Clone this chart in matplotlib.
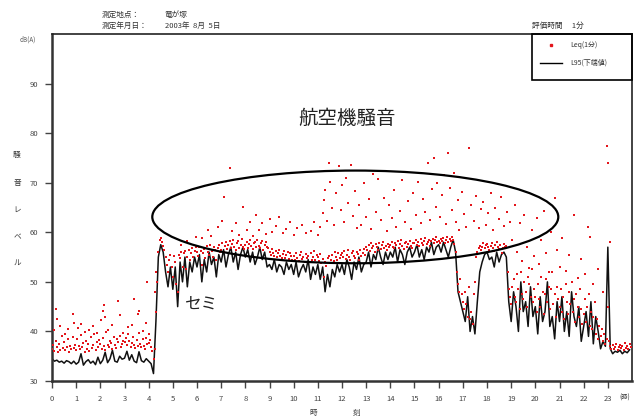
import numpy as np
import matplotlib
matplotlib.use("Agg")
import matplotlib.pyplot as plt
from matplotlib.patches import Ellipse, Rectangle
from matplotlib.lines import Line2D

plt.rcParams['font.family'] = ['Noto Sans CJK JP', 'DejaVu Sans']

# ---- data ----
# L95 at 0.1 h steps (hour 0 ... 23.9)
l95 = [
    34.5,34.0,34.2,33.8,34.0,33.6,34.1,33.9,33.5,34.0,
    33.4,33.8,35.5,33.2,33.9,34.3,33.6,34.0,33.3,34.8,
    33.5,34.2,35.8,33.7,34.5,36.2,34.0,33.8,35.0,34.4,
    34.6,36.0,34.2,35.3,34.0,33.7,35.9,34.1,33.8,34.5,
    34.0,33.5,31.5,42.0,55.0,57.5,56.0,52.0,49.0,53.0,
    48.5,53.0,45.0,54.0,50.0,55.0,49.0,54.0,52.0,55.0,
    53.0,55.5,50.0,54.5,52.0,56.0,53.5,55.0,51.0,55.5,
    54.0,56.5,53.0,55.5,57.0,54.0,56.0,52.5,55.5,57.0,
    55.0,56.5,54.0,56.0,53.5,55.0,57.0,54.5,56.0,53.0,
    53.5,52.5,54.5,52.0,53.5,53.0,51.5,54.0,52.5,53.5,
    51.5,54.0,51.0,52.5,53.5,52.0,54.5,50.5,53.0,51.5,
    53.5,50.5,53.0,48.0,51.5,49.0,52.5,51.0,53.5,52.0,
    53.5,51.5,54.5,53.0,50.5,54.0,52.5,55.0,52.0,53.5,
    54.0,56.0,53.0,55.5,54.5,57.0,55.0,53.5,56.0,54.5,
    56.0,55.0,57.0,54.0,56.5,55.5,53.5,56.0,57.0,55.0,
    56.0,57.5,55.0,56.5,54.5,57.0,56.0,58.0,55.5,57.0,
    57.5,56.0,58.0,56.5,55.0,57.0,58.5,56.0,48.0,46.0,
    44.0,42.0,47.0,40.0,43.0,39.5,46.0,52.0,54.0,55.5,
    56.0,54.5,55.0,53.0,56.0,54.0,55.5,56.0,55.0,46.0,
    42.0,48.0,45.0,40.0,50.0,44.0,46.0,41.0,49.0,43.0,
    45.0,39.5,47.0,42.0,44.0,50.0,41.0,43.0,38.5,46.0,
    42.0,47.0,40.0,44.0,39.0,48.0,43.0,41.0,45.0,38.0,
    41.0,44.0,39.0,46.0,37.5,43.0,40.0,36.5,38.0,37.0,
    57.0,36.5,35.5,36.0,35.8,36.2,35.5,36.0,35.7,36.3,
]

# Leq(1 min) base band at 0.05 h steps
leq = [
    36.5,37.2,36.0,38.1,36.8,35.9,37.5,36.3,39.0,36.7,37.8,36.2,36.9,38.4,35.8,37.1,36.4,38.8,36.6,37.3,
    36.2,38.5,37.0,36.4,39.2,36.8,37.6,35.9,38.0,36.5,37.4,36.1,38.9,36.7,37.2,39.5,36.3,37.8,36.9,38.2,
    37.5,36.4,38.6,37.0,36.2,39.8,37.3,36.8,38.1,37.6,36.5,38.9,37.2,36.6,38.4,37.8,39.1,36.9,37.4,38.0,
    37.9,38.6,37.2,39.4,38.1,36.8,37.7,38.9,37.3,36.6,38.2,37.0,39.6,37.5,36.9,38.4,37.1,36.5,38.7,37.4,
    37.6,38.3,36.9,36.0,34.5,36.5,44.0,50.0,56.0,58.5,58.8,58.0,57.2,56.5,55.0,53.5,52.0,54.5,55.5,53.0,
    51.0,55.2,54.0,49.5,48.0,55.5,54.8,56.0,53.0,55.8,56.2,52.5,55.0,56.5,54.5,55.8,56.8,55.0,56.3,57.0,
    56.0,55.2,57.0,56.3,53.5,55.8,56.6,54.8,57.2,56.0,55.5,57.4,56.2,55.0,57.0,56.5,54.5,56.8,57.5,56.0,
    56.5,57.8,56.0,57.2,58.0,56.6,57.5,58.3,56.9,57.6,58.5,57.0,56.4,57.9,58.2,56.8,57.4,58.6,57.1,56.7,
    57.5,58.0,56.9,57.6,58.4,57.2,56.6,57.8,58.1,57.0,58.5,57.3,56.8,57.9,58.2,56.5,57.4,58.0,57.1,56.9,
    56.0,55.4,56.6,55.8,55.2,56.3,55.0,55.9,56.5,55.3,54.8,55.7,56.2,54.9,55.5,56.0,54.6,55.8,55.2,54.5,
    55.2,54.4,55.8,54.9,54.2,55.5,56.0,54.6,55.1,54.0,55.7,54.8,55.3,54.1,55.9,54.5,55.0,56.2,54.4,55.4,
    55.0,54.3,55.6,53.8,54.7,51.0,54.0,53.2,54.8,55.3,53.9,54.5,55.5,54.2,56.0,55.1,54.4,55.8,54.9,55.4,
    55.8,55.1,56.2,54.6,55.5,56.5,55.0,54.4,55.9,56.3,55.2,54.8,56.0,55.6,54.5,56.4,55.3,55.9,56.6,55.4,
    57.0,56.5,57.5,56.2,57.8,56.8,57.3,56.0,57.6,57.1,56.4,57.9,56.7,57.4,58.0,56.9,57.2,56.5,57.7,57.0,
    57.4,58.0,57.1,56.8,57.9,57.5,58.2,56.9,57.6,58.4,57.3,56.7,57.8,58.1,57.0,57.6,58.3,57.2,56.9,57.8,
    57.8,58.4,57.5,58.1,57.2,58.6,57.9,57.4,58.3,58.8,57.6,58.0,58.5,57.3,58.2,58.7,57.8,58.4,59.0,58.1,
    58.3,57.9,58.7,58.2,58.9,57.8,58.5,59.1,58.0,58.6,58.2,59.0,58.4,57.7,56.0,52.0,49.5,48.0,50.5,47.5,
    46.0,44.5,48.0,45.5,43.0,49.0,42.5,44.0,41.5,47.5,50.0,55.0,56.0,56.8,57.2,56.5,57.0,57.8,56.9,57.5,
    57.6,57.0,56.4,57.3,57.9,56.8,56.2,57.5,58.0,57.1,56.6,57.4,55.8,56.9,57.6,57.0,57.3,52.0,48.5,47.0,
    45.5,49.0,50.5,47.0,46.0,51.5,48.5,44.5,52.0,47.5,46.5,50.0,48.0,45.0,51.0,49.5,47.0,52.5,46.0,48.5,
    47.0,44.0,49.5,46.5,45.0,51.0,48.0,43.5,47.5,50.5,46.0,49.0,44.5,48.5,52.0,45.5,47.5,43.0,49.0,46.5,
    45.0,48.5,44.0,47.0,42.5,49.5,46.0,43.5,48.0,45.5,50.0,44.0,46.5,42.0,47.5,45.0,43.0,48.5,44.5,41.5,
    43.5,46.5,42.0,45.0,47.5,41.0,44.0,40.5,43.0,46.0,39.5,42.5,38.5,41.0,39.0,40.5,38.0,39.5,37.5,38.5,
    45.0,38.0,37.0,36.5,37.2,36.4,36.8,37.5,36.2,36.9,37.3,36.6,37.0,36.3,37.6,36.7,37.1,36.5,37.4,36.9,
]

# scattered Leq outliers (hour, dB)
extra_hours = [
    0.10,0.17,0.22,0.35,0.55,0.68,0.85,0.92,1.08,1.22,1.35,1.52,1.70,1.85,2.03,2.10,2.15,2.20,2.32,2.48,
    2.74,2.80,2.95,3.15,3.30,3.38,3.55,3.62,3.78,3.88,3.92,4.02,4.28,4.32,
    5.35,5.60,5.95,6.20,6.45,6.60,6.85,7.05,7.12,7.35,7.45,7.60,7.75,7.90,8.05,8.20,8.30,8.45,8.55,8.70,
    8.85,9.00,9.10,9.25,9.40,9.55,9.70,9.85,10.00,10.15,10.35,10.50,10.70,10.85,11.00,11.10,11.20,11.25,
    11.30,11.38,11.45,11.52,11.60,11.68,11.75,11.87,11.95,12.02,12.10,12.18,12.25,12.36,12.45,12.55,12.62,
    12.72,12.80,12.90,13.00,13.10,13.20,13.30,13.42,13.50,13.62,13.75,13.85,13.95,14.05,14.15,14.25,14.40,
    14.50,14.62,14.75,14.85,14.95,15.05,15.15,15.25,15.35,15.45,15.55,15.65,15.72,15.80,15.88,15.95,16.05,
    16.12,16.22,16.30,16.40,16.48,16.55,16.62,16.70,16.78,16.85,16.95,17.05,17.15,17.26,17.35,17.45,17.55,
    17.65,17.75,17.85,17.95,18.05,18.15,18.25,18.35,18.48,18.58,18.70,18.82,18.95,19.05,19.15,19.25,19.35,
    19.45,19.55,19.65,19.75,19.85,19.95,20.05,20.15,20.25,20.35,20.45,20.55,20.65,20.80,20.90,21.00,21.10,
    21.25,21.40,21.60,21.75,21.90,22.05,22.20,22.25,22.40,22.60,22.80,22.95,23.00,23.10,
]
extra_db = [
    40.2,44.6,42.5,41.0,39.4,40.5,43.6,41.8,40.6,41.4,39.8,40.2,41.0,39.6,42.3,44.2,45.3,43.0,40.3,41.2,
    46.1,43.4,39.7,40.8,41.3,46.5,43.6,44.1,40.1,41.6,50.0,39.5,48.0,52.0,
    57.5,58.2,59.0,58.8,60.5,59.2,61.0,62.2,67.2,72.9,60.2,61.9,59.5,65.2,60.5,62.0,59.3,63.5,60.4,61.8,
    59.6,62.6,60.0,61.2,63.0,59.8,60.7,62.1,59.4,60.8,61.5,59.9,60.3,62.0,59.5,61.0,63.8,66.5,
    68.5,62.3,73.9,70.2,65.0,61.4,68.0,73.3,64.5,69.5,62.0,71.0,66.0,73.5,63.2,68.3,60.8,
    65.5,61.5,70.0,63.0,66.8,60.6,71.8,64.0,70.8,62.4,67.0,60.2,65.6,62.8,68.6,61.0,64.2,
    70.5,62.0,66.3,60.6,68.0,63.5,70.2,61.8,66.8,64.0,73.9,62.5,68.8,74.9,65.2,70.0,63.0,
    67.5,71.5,61.6,75.9,69.0,64.5,72.0,62.0,66.5,60.5,68.2,63.6,61.0,77.1,65.5,62.3,67.4,
    60.8,64.6,66.2,61.5,63.8,68.0,60.4,65.0,62.6,67.2,61.2,64.0,62.0,58.5,65.6,56.0,61.8,
    54.2,63.5,57.0,52.8,60.5,55.2,62.8,53.6,58.4,64.2,55.8,51.9,60.0,67.0,56.5,53.0,58.8,
    52.2,55.5,63.4,50.8,54.6,51.5,61.0,59.0,49.5,52.5,48.0,77.5,73.9,58.0,
]

yticks = [30, 40, 50, 60, 70, 80, 90]
xticks = list(range(24))

W, H = 638, 418

def fx(px):
    return px / W

def fy(py):
    return 1 - py / H

# ---- figure ----
fig = plt.figure(figsize=(6.38, 4.18), dpi=100)
ax = fig.add_axes([fx(52), fy(381), (632 - 52) / W, (381 - 34) / H])

t95 = np.arange(len(l95)) * 0.1
tleq = np.arange(len(leq)) * 0.05

red = '#e3151b'
ax.plot(t95, l95, color='#111111', lw=1.1, zorder=2)
ax.scatter(tleq, leq, s=3.5, color=red, marker='s', linewidths=0, zorder=3)
ax.scatter(extra_hours, extra_db, s=3.5, color=red, marker='s', linewidths=0, zorder=3)

ax.set_xlim(0, 24)
ax.set_ylim(30, 100)
ax.set_xticks(xticks)
ax.set_yticks(yticks)
ax.tick_params(direction='out', length=5, width=1, labelsize=5.5, labelcolor='#444444',
               color='#444444', pad=5)
for s in ['left', 'bottom']:
    ax.spines[s].set_linewidth(1.8)
    ax.spines[s].set_color('#333333')
for s in ['top', 'right']:
    ax.spines[s].set_linewidth(1.2)
    ax.spines[s].set_color('#222222')

# ellipse annotation
ell = Ellipse((12.55, 63.1), 16.8, 18.7, fill=False, edgecolor='black', lw=1.6, zorder=4)
ax.add_patch(ell)
ax.text(12.2, 82.9, '航空機騒音', fontsize=14, ha='center', va='center', color='#222222')
ax.text(6.2, 45.3, 'セミ', fontsize=12, ha='center', va='center', color='#222222')

# legend box (drawn by hand to match position)
tc = '#333333'
fig.patches.append(Rectangle((fx(532), fy(80)), (632 - 532) / W, (80 - 34) / H,
                             transform=fig.transFigure, fill=False, edgecolor='black', lw=1.2))
fig.lines.append(Line2D([fx(551)], [fy(45)], ls='none', marker='s', ms=1.8, color=red,
                        transform=fig.transFigure))
fig.lines.append(Line2D([fx(540), fx(562)], [fy(63), fy(63)], color='black', lw=1.0,
                        transform=fig.transFigure))
fig.text(fx(570), fy(45), 'Leq(1分)', fontsize=5, color=tc, va='center')
fig.text(fx(570), fy(63), 'L95(下端値)', fontsize=5, color=tc, va='center')

# header texts
fig.text(fx(102), fy(15), '測定地点：', fontsize=5.5, color=tc, va='center')
fig.text(fx(165), fy(15), '竜が塚', fontsize=5.5, color=tc, va='center')
fig.text(fx(102), fy(26), '測定年月日：', fontsize=5.5, color=tc, va='center')
fig.text(fx(165), fy(26), '2003年  8月  5日', fontsize=5.5, color=tc, va='center')
fig.text(fx(532), fy(26), '評価時間　 1分', fontsize=5.5, color=tc, va='center')
fig.text(fx(20), fy(40), 'dB(A)', fontsize=4.5, color='#555555', va='center')

for ch, y in zip('騒音レベル', [155, 183, 210, 237, 263]):
    fig.text(fx(17), fy(y), ch, fontsize=5.5, color=tc, ha='center', va='center')

fig.text(fx(313), fy(413), '時', fontsize=5.5, color=tc, ha='center', va='center')
fig.text(fx(357), fy(413), '刻', fontsize=5.5, color=tc, ha='center', va='center')
fig.text(fx(625), fy(398), '(時)', fontsize=4.5, color=tc, ha='center', va='center')

fig.savefig('out.png', dpi=100)
